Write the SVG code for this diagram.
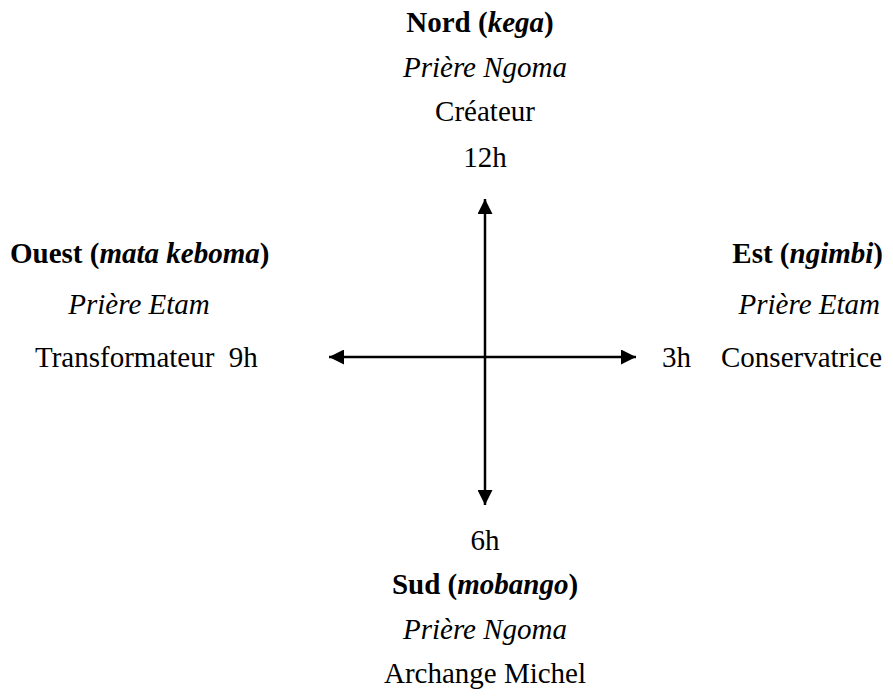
<svg xmlns="http://www.w3.org/2000/svg" width="893" height="700" viewBox="0 0 893 700">
<style>
text{font-family:"Liberation Serif","Times New Roman",serif;font-size:29px;fill:#000}
.b{font-weight:bold}
.i{font-style:italic}
.ax{stroke:#000;stroke-width:2.5;fill:none}
</style>
<defs>
<marker id="ah" viewBox="0 0 10 10" refX="10" refY="5" markerWidth="6" markerHeight="6" markerUnits="strokeWidth" orient="auto-start-reverse">
<path d="M0,0 L10,5 L0,10 Z" fill="#000"/>
</marker>
</defs>
<rect width="893" height="700" fill="#fff"/>
<g id="connectors">
<line class="ax" x1="485" y1="199" x2="485" y2="505" marker-start="url(#ah)" marker-end="url(#ah)"/>
<line class="ax" x1="329" y1="357" x2="636" y2="357" marker-start="url(#ah)" marker-end="url(#ah)"/>
</g>
<g id="nord" text-anchor="middle">
<text x="480" y="32" class="b">Nord (<tspan class="i">kega</tspan>)</text>
<text x="485" y="77" class="i">Prière Ngoma</text>
<text x="485" y="121">Créateur</text>
<text x="485" y="167">12h</text>
</g>
<g id="ouest">
<text x="10" y="263" class="b">Ouest (<tspan class="i">mata keboma</tspan>)</text>
<text x="139" y="314" class="i" text-anchor="middle">Prière Etam</text>
<text x="35" y="367" xml:space="preserve">Transformateur  9h</text>
</g>
<g id="est">
<text x="883" y="263" class="b" text-anchor="end">Est (<tspan class="i">ngimbi</tspan>)</text>
<text x="880" y="314" class="i" text-anchor="end">Prière Etam</text>
<text x="662" y="367">3h</text>
<text x="721" y="367">Conservatrice</text>
</g>
<g id="sud" text-anchor="middle">
<text x="485" y="550">6h</text>
<text x="485" y="594" class="b">Sud (<tspan class="i">mobango</tspan>)</text>
<text x="485" y="639" class="i">Prière Ngoma</text>
<text x="485" y="683">Archange Michel</text>
</g>
</svg>
